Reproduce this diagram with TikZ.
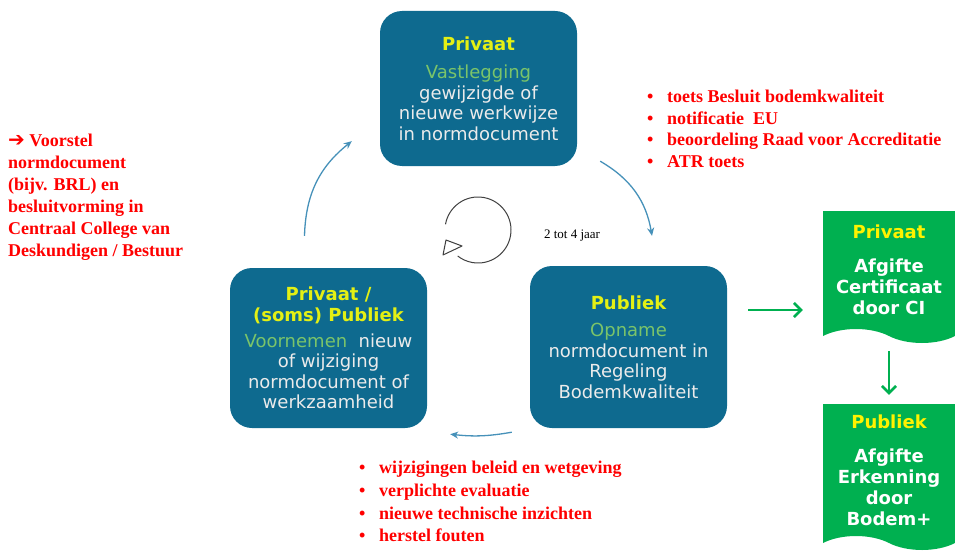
\documentclass[tikz,border=0pt]{standalone}
\usepackage{fontspec}
\setmainfont{Liberation Serif}
\newfontfamily\boxfont{DejaVu Sans}
\usetikzlibrary{arrows.meta,shapes.symbols,calc}
\definecolor{boxblue}{RGB}{14,106,143}
\definecolor{headyellow}{RGB}{228,240,20}
\definecolor{softgreen}{RGB}{122,196,106}
\definecolor{docgreen}{RGB}{0,176,80}
\definecolor{arcblue}{RGB}{70,145,185}
\newcommand{\phasehead}[1]{{\bfseries\color{headyellow}#1}}
\newcommand{\phaselead}[1]{{\color{softgreen}#1}}
\newcommand{\bul}{\makebox[20pt][l]{\textbullet}}

\begin{document}
\begin{tikzpicture}[x=1pt, y=-1pt, every node/.style={inner sep=0pt},
	phase/.style={rounded corners=22pt, fill=boxblue, minimum width=197pt, align=center,
		text=white!92!black, font=\boxfont\fontsize{18}{20.5}\selectfont},
	doc/.style={tape, tape bend top=none, tape bend bottom=out and in, tape bend height=14pt,
		fill=docgreen, minimum width=132pt, align=center, text=white,
		font=\boxfont\bfseries\fontsize{18}{21}\selectfont},
	note/.style={align=left, text=red, font=\bfseries\fontsize{18}{22}\selectfont},
	cyclearrow/.style={arcblue, line width=1.3pt, -{Stealth[length=8pt,width=7pt]}},
	pass/.style={docgreen, line width=2.6pt, -{Straight Barb[length=7pt,width=14pt]}}]
	\useasboundingbox (0,0) rectangle (955,559);
	
	% Phases of the cycle
	\node[phase, minimum height=155pt] (vast) at (478.5,88.5)
		{\phasehead{Privaat}\\[8pt]\phaselead{Vastlegging}\\gewijzigde of\\nieuwe werkwijze\\in normdocument};
	\node[phase, minimum height=160pt] (voor) at (328.5,348)
		{\phasehead{Privaat /}\\[1pt]\phasehead{(soms) Publiek}\\[5pt]\phaselead{Voornemen}\ \ nieuw\\of wijziging\\normdocument of\\werkzaamheid};
	\node[phase, minimum height=162pt] (opn) at (628.5,347)
		{\phasehead{Publiek}\\[7pt]\phaselead{Opname}\\normdocument in\\Regeling\\Bodemkwaliteit};
	
	% Cycle arrows
	\draw[cyclearrow] ([shift={(-24,-32)}]voor.north) to[bend left=25] ([shift={(-28,-25)}]vast.south west);
	\draw[cyclearrow] ([shift={(23,-5)}]vast.south east) to[bend left=25] ([shift={(23.5,-30)}]opn.north);
	\draw[cyclearrow] ([shift={(-18,4)}]opn.south west) to[bend left=8] ([shift={(23,6)}]voor.south east);
	
	% Duration
	\coordinate (loop) at (478,230);
	\draw[black!75, line width=1pt]
		([shift={(-170:33)}]loop) arc[start angle=-170, end angle=128, radius=33];
	\draw[black!75, line width=1pt, fill=white, line join=round]
		([shift={(-32,10)}]loop) -- ([shift={(-16,16)}]loop) -- ([shift={(-35,25)}]loop) -- cycle;
	\node[font=\fontsize{13}{15}\selectfont] (span) at (572,236) {2 tot 4 jaar};
	
	% Documents
	\node[doc, minimum height=132pt] (cert) at (889,270)
		{\textcolor{yellow}{Privaat}\\[13pt]Afgifte\\Certificaat\\door CI};
	\node[doc, minimum height=146pt] (erk) at (889,470)
		{\textcolor{yellow}{Publiek}\\[13pt]Afgifte\\Erkenning\\door\\Bodem+};
	\draw[pass] ($(opn.east)+(21,-37)$) -- ($(opn.east -| cert.west)+(-20,-37)$);
	\draw[pass, shorten <=22pt, shorten >=9pt] (cert.south) -- (erk.north);
	
	% Notes
	\node[note, anchor=north west] (start) at (8,133.5)
		{{\boxfont\fontsize{20}{22}\selectfont ➔}\ Voorstel\\normdocument\\(bijv. BRL) en\\besluitvorming in\\Centraal College van\\Deskundigen / Bestuur};
	\node[note, anchor=north west, font=\bfseries\fontsize{18}{21.5}\selectfont] (checks) at (647,90)
		{\bul toets Besluit bodemkwaliteit\\\bul notificatie\ \ EU\\\bul beoordeling Raad voor Accreditatie\\\bul ATR toets};
	\node[note, anchor=north west, font=\bfseries\fontsize{18}{22.7}\selectfont] (causes) at (359,461)
		{\bul wijzigingen beleid en wetgeving\\\bul verplichte evaluatie\\\bul nieuwe technische inzichten\\\bul herstel fouten};
\end{tikzpicture}
\end{document}
